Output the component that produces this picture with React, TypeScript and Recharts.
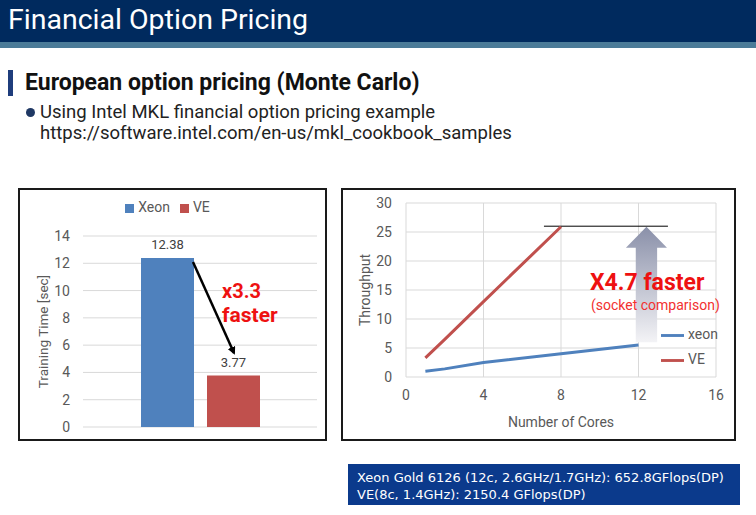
import React from 'react';
import {
  BarChart, Bar, LineChart, Line, XAxis, YAxis, CartesianGrid, Legend,
  LabelList, ReferenceLine, ReferenceArea,
} from 'recharts';

// bar chart: training time
const barSeries = ['Xeon', 'VE'];
const barTimes = [12.38, 3.77];
const barColors = ['#4f81bd', '#c0504d'];
const timeTicks = [0, 2, 4, 6, 8, 10, 12, 14];

// line chart: throughput vs cores
const lineSeries = ['xeon', 'VE'];
const xeonCores = [1, 2, 4, 8, 12];
const xeonThroughput = [1.0, 1.4, 2.5, 4.0, 5.5];
const veCores = [1, 2, 4, 8];
const veThroughput = [3.3, 6.5, 13.0, 25.9];
const coreTicks = [0, 4, 8, 12, 16];
const throughputTicks = [0, 5, 10, 15, 20, 25, 30];

const barData = [
  barSeries.reduce((row: any, s, i) => ({ ...row, [s]: barTimes[i] }), { name: 'Monte Carlo' }),
];
const xeonData = xeonCores.map((c, i) => ({ cores: c, value: xeonThroughput[i] }));
const veData = veCores.map((c, i) => ({ cores: c, value: veThroughput[i] }));

const FONT = 'Roboto, "Noto Sans", sans-serif';
const GRID = '#d9d9d9';
const TICK = '#595959';

const GrayArrow = (props: any) => {
  const { x, y, width, height } = props;
  const cx = x + width / 2;
  const headH = 21;
  const sw = width * 0.52;
  const pts = [
    [cx, y], [x + width, y + headH], [cx + sw / 2, y + headH], [cx + sw / 2, y + height],
    [cx - sw / 2, y + height], [cx - sw / 2, y + headH], [x, y + headH],
  ].map(p => p.join(',')).join(' ');
  return (
    <g>
      <defs>
        <linearGradient id="arrowFade" x1="0" y1="0" x2="0" y2="1">
          <stop offset="0%" stopColor="#8a90a9" />
          <stop offset="100%" stopColor="#f3f3f6" />
        </linearGradient>
      </defs>
      <polygon points={pts} fill="url(#arrowFade)" />
    </g>
  );
};

const legendText = (value: string) => <span style={{ color: TICK }}>{value}</span>;
const byOrder = (names: string[]) => (item: any) => names.indexOf(item.value);

const TimeChart = () => (
  <BarChart width={309} height={253} data={barData} margin={{ top: 48, right: 10, bottom: 14, left: 0 }}
    barSize={53} barGap={13}>
    <CartesianGrid vertical={false} stroke={GRID} />
    <XAxis dataKey="name" hide />
    <YAxis domain={[0, 14]} ticks={timeTicks} width={65} axisLine={false} tickLine={false} tickMargin={7}
      tick={{ fill: TICK, fontSize: 14, fontFamily: FONT }}
      label={{ value: 'Training Time [sec]', angle: -90, position: 'insideLeft', offset: 25, fill: TICK, fontSize: 13.5, fontFamily: FONT, style: { textAnchor: 'middle' } }} />
    <Legend layout="horizontal" align="center" verticalAlign="middle" iconType="square" iconSize={9}
      formatter={legendText} itemSorter={byOrder(barSeries)}
      wrapperStyle={{ top: 11, left: 0, width: 309, fontSize: 14, fontFamily: FONT }} />
    {barSeries.map((s, i) => (
      <Bar key={s} dataKey={s} fill={barColors[i]} isAnimationActive={false}>
        <LabelList dataKey={s} position="top" offset={9} fill="#404040" fontSize={13} fontFamily={FONT} />
      </Bar>
    ))}
  </BarChart>
);

const ThroughputChart = () => (
  <LineChart width={395} height={253} margin={{ top: 15, right: 20, bottom: 0, left: 0 }}>
    <CartesianGrid stroke={GRID} />
    <XAxis type="number" dataKey="cores" domain={[0, 16]} ticks={coreTicks} height={64} axisLine={false} tickLine={false}
      tickMargin={7} tick={{ fill: TICK, fontSize: 14, fontFamily: FONT }}
      label={{ value: 'Number of Cores', position: 'insideBottom', offset: 14, fill: TICK, fontSize: 14, fontFamily: FONT }} />
    <YAxis type="number" domain={[0, 30]} ticks={throughputTicks} width={65} axisLine={false} tickLine={false}
      tickMargin={8} tick={{ fill: TICK, fontSize: 14, fontFamily: FONT }}
      label={{ value: 'Throughput', angle: -90, position: 'insideLeft', offset: 24, fill: TICK, fontSize: 14, fontFamily: FONT, style: { textAnchor: 'middle' } }} />
    <ReferenceArea x1={11.35} x2={13.47} y1={6.0} y2={25.9} shape={GrayArrow} />
    <ReferenceLine segment={[{ x: 7.12, y: 26 }, { x: 13.52, y: 26 }]} stroke="#000" strokeWidth={1} />
    <Legend layout="vertical" align="center" verticalAlign="middle" iconType="plainline" iconSize={23}
      formatter={legendText} itemSorter={byOrder(lineSeries)}
      wrapperStyle={{ left: 320, top: 134, width: 'auto', fontSize: 14, lineHeight: '24px', fontFamily: FONT }} />
    <Line data={xeonData} dataKey="value" name={lineSeries[0]} stroke="#4f81bd" strokeWidth={3} dot={false} isAnimationActive={false} />
    <Line data={veData} dataKey="value" name={lineSeries[1]} stroke="#c0504d" strokeWidth={3} dot={false} isAnimationActive={false} />
  </LineChart>
);

export default function App() {
  const abs = (l: number, t: number): React.CSSProperties => ({ position: 'absolute', left: l, top: t });
  return (
    <div style={{ position: 'fixed', left: 0, top: 0, width: 756, height: 515, background: '#fff', overflow: 'hidden', fontFamily: FONT }}>
      <div style={{ ...abs(0, 0), width: 756, height: 42, background: '#002a5e' }} />
      <div style={{ ...abs(0, 42), width: 756, height: 6, background: '#4b7b98' }} />
      <div style={{ ...abs(8, 0), height: 42, lineHeight: '40px', fontSize: 28.5, color: '#fff', whiteSpace: 'nowrap' }}>Financial Option Pricing</div>

      <div style={{ ...abs(8, 70), width: 5, height: 26, background: '#1f3d7c' }} />
      <div style={{ ...abs(25, 69), lineHeight: '28px', fontSize: 23, fontWeight: 700, color: '#111', whiteSpace: 'nowrap' }}>European option pricing (Monte Carlo)</div>
      <div style={{ ...abs(26, 108), width: 9, height: 9, borderRadius: '50%', background: '#1f3864' }} />
      <div style={{ ...abs(40, 101), lineHeight: '22px', fontSize: 18.5, color: '#222', whiteSpace: 'nowrap' }}>Using Intel MKL financial option pricing example</div>
      <div style={{ ...abs(40, 122), lineHeight: '22px', fontSize: 18.5, color: '#222', whiteSpace: 'nowrap' }}>https://software.intel.com/en-us/mkl_cookbook_samples</div>

      <div style={{ ...abs(18, 188), width: 309, height: 253 }}><TimeChart /></div>
      <div style={{ ...abs(18, 188), width: 309, height: 253, border: '2px solid #1a1a1a', boxSizing: 'border-box' }} />
      <div style={{ ...abs(341, 188), width: 395, height: 253 }}><ThroughputChart /></div>
      <div style={{ ...abs(341, 188), width: 395, height: 253, border: '2px solid #1a1a1a', boxSizing: 'border-box' }} />

      <svg width={756} height={515} style={{ ...abs(0, 0), pointerEvents: 'none' }}>
        <defs>
          <marker id="blackHead" markerWidth="8" markerHeight="8" refX="6" refY="4" orient="auto" markerUnits="userSpaceOnUse">
            <path d="M0,0 L8,4 L0,8 Z" fill="#000" />
          </marker>
        </defs>
        <line x1={193} y1={262} x2={234} y2={353} stroke="#000" strokeWidth={2.5} markerEnd="url(#blackHead)" />
        <text x={222} y={298} fontSize={20} fontWeight={700} fill="#ee1111" fontFamily={FONT}>x3.3</text>
        <text x={222} y={322} fontSize={21} fontWeight={700} fill="#ee1111" fontFamily={FONT}>faster</text>
        <text x={590} y={290} fontSize={23} fontWeight={700} fill="#ee1111" fontFamily={FONT}>X4.7 faster</text>
        <text x={591} y={310} fontSize={14} fill="#f23030" fontFamily={FONT}>(socket comparison)</text>
      </svg>

      <div style={{ ...abs(348, 464), width: 392, height: 41, background: '#0b3a8c', color: '#fff', fontFamily: '"DejaVu Sans", Verdana, sans-serif', fontSize: 13, lineHeight: '17px', padding: '5px 0 0 9px', boxSizing: 'border-box', whiteSpace: 'nowrap' }}>
        Xeon Gold 6126 (12c, 2.6GHz/1.7GHz): 652.8GFlops(DP)<br />VE(8c, 1.4GHz): 2150.4 GFlops(DP)
      </div>
    </div>
  );
}
